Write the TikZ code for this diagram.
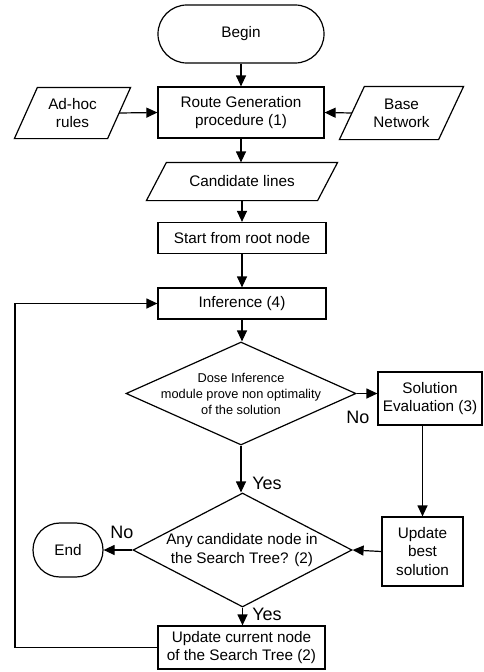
\documentclass[tikz,border=0pt]{standalone}
\usepackage{fontspec}
\setmainfont{Liberation Sans}
\usetikzlibrary{arrows.meta,shapes.geometric,calc}
\begin{document}
\begin{tikzpicture}[x=1pt,y=-1pt,
  line width=1.2pt,
  txt/.style={font=\fontsize{15.3}{18.3}\selectfont, align=center, inner sep=0pt},
  box/.style={txt, draw, rectangle},
  term/.style={box, rounded corners=#1},
  plain/.style={txt},
  dia/.style={draw, diamond, inner sep=0pt, aspect=1},
  lbl/.style={font=\fontsize{18}{20}\selectfont, inner sep=0pt},
  arr/.style={-{Triangle[length=11pt,width=10pt]}}
]
\useasboundingbox (0,0) rectangle (483,672);

% terminals
\node[term=28.9pt, minimum width=166pt, minimum height=58pt] (begin) at (241,34) {Begin};
\node[term=26.9pt, minimum width=70pt, minimum height=54pt] (end) at (68,550) {End};

% process boxes
\node[box, minimum width=166pt, minimum height=51pt] (route) at (241,112.5) {Route Generation\\procedure (1)};
\node[box, minimum width=168pt, minimum height=31pt] (start) at (242,238) {Start from root node};
\node[box, minimum width=168pt, minimum height=31pt] (inf) at (242,303.5) {Inference (4)};
\node[box, minimum width=104pt, minimum height=53pt] (sol) at (430,398.5) {Solution\\Evaluation (3)};
\node[box, minimum width=81pt, minimum height=69pt] (upd) at (422.5,551.5) {Update\\best\\solution};
\node[box, minimum width=167pt, minimum height=43pt] (cur) at (241.5,647.5) {Update current node\\of the Search Tree (2)};

% parallelograms (text nodes + drawn outline)
\node[plain, minimum width=115pt, minimum height=50pt] (adhoc) at (72.5,113) {Ad-hoc\\rules};
\node[plain, minimum width=123pt, minimum height=52pt] (base) at (401.5,113) {Base\\Network};
\node[plain, minimum width=190pt, minimum height=37pt] (cand) at (242,181.5) {Candidate lines};
\draw ($(adhoc.north west)+(23,0)$) -- (adhoc.north east) -- ($(adhoc.south east)+(-23,0)$) -- (adhoc.south west) -- cycle;
\draw ($(base.north west)+(25,0)$) -- (base.north east) -- ($(base.south east)+(-25,0)$) -- (base.south west) -- cycle;
\draw ($(cand.north west)+(20,0)$) -- (cand.north east) -- ($(cand.south east)+(-20,0)$) -- (cand.south west) -- cycle;

% decisions
\node[dia, minimum width=230pt, minimum height=103pt] (d1) at (241,393.5) {};
\node[txt, font=\fontsize{12.8}{16.3}\selectfont] (d1t) at (241,394) {Dose Inference\\module prove non optimality\\of the solution};
\node[dia, minimum width=219pt, minimum height=114pt] (d2) at (242.5,550) {};
\node[txt] (d2t) at (242,550) {Any candidate node in\\the Search Tree? (2)};

% connectors
\draw[arr] (begin.south) -- (route.north);
\draw[arr] ($(adhoc.east)+(-11.5,0)$) -- (route.west);
\draw[arr] ($(base.west)+(12.5,0)$) -- (route.east);
\draw[arr] (route.south) -- (route.south |- cand.north);
\draw[arr] (cand.south) -- (cand.south -| start.north) -- (start.north);
\draw[arr] (start.south) -- (inf.north);
\draw[arr] (inf.south) -- (inf.south |- d1.north);
\draw[arr] (d1.east) -- (d1.east -| sol.west);
\draw[arr] (upd.north |- sol.south) -- (upd.north);
\draw[arr] (d1.south) -- (d1.south |- d2.north);
\draw[arr] (d2.west) -- (end.east);
\draw[arr] (upd.west) -- (d2.east);
\draw[arr] (d2.south) -- (d2.south |- cur.north);
\coordinate (loopx) at (15,0);
\draw[arr] (cur.west) -- (cur.west -| loopx) -- (inf.west -| loopx) -- (inf.west);

% labels
\node[lbl] (lno1) at (358,417) {No};
\node[lbl] (lyes1) at (267,483) {Yes};
\node[lbl] (lno2) at (122,532) {No};
\node[lbl] (lyes2) at (267,614) {Yes};
\end{tikzpicture}
\end{document}
